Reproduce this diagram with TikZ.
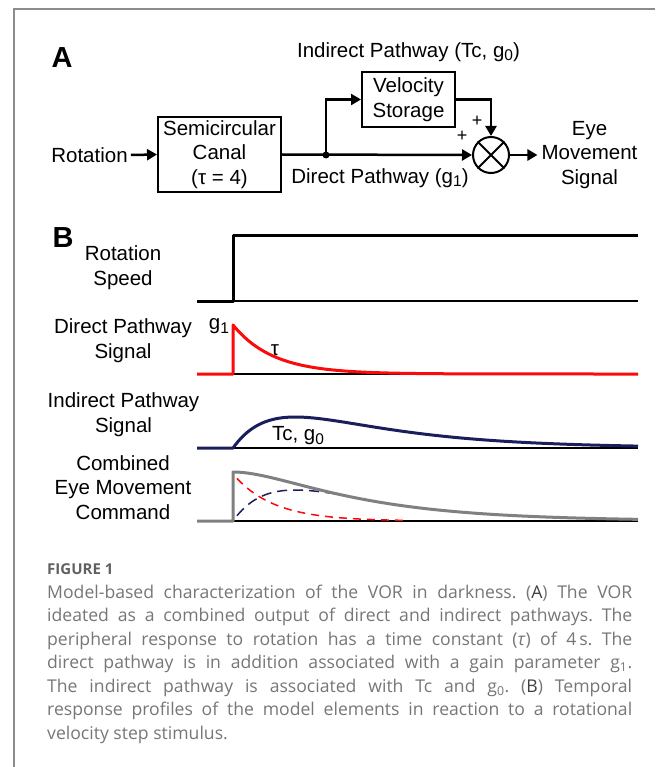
\documentclass[tikz,border=0pt]{standalone}
\usepackage{fontspec}
\setmainfont{Liberation Sans}
\newfontfamily\capfont{Open Sans}
\usetikzlibrary{arrows.meta}
\frenchspacing
\definecolor{navy}{RGB}{26,30,92}
\definecolor{sigred}{RGB}{250,10,10}
\definecolor{siggray}{RGB}{128,128,128}
\definecolor{capgray}{RGB}{118,118,118}
\definecolor{framegray}{RGB}{140,140,140}
\newcommand\dsub[1]{\raisebox{-0.18em}{\fontsize{15.5}{15.5}\selectfont #1}}
\tikzset{
  lbl/.style={font=\fontsize{20.5}{24.5}\selectfont, align=center, inner sep=3pt},
  panel/.style={font=\bfseries\fontsize{29}{29}\selectfont, inner sep=0pt},
  blk/.style={draw, line width=2pt, inner sep=0pt, align=center, font=\fontsize{20.5}{24.5}\selectfont},
  arr/.style={line width=2.5pt, -{Triangle[length=10pt,width=11pt]}},
  axisline/.style={line width=1.5pt, black},
  sig/.style={line width=3pt, line join=round},
  dsh/.style={line width=1.5pt, dash pattern=on 8pt off 6pt},
  capline/.style={anchor=west, inner sep=0pt, font=\capfont\fontsize{17.6}{23.7}\selectfont, text=capgray},
}
\begin{document}
\begin{tikzpicture}[x=1pt,y=-1pt]
\useasboundingbox (0,0) rectangle (655,767);
% frame
\draw[framegray, line width=1.5pt] (14,767) -- (14,9) -- (655,9);

% ---------- Panel A ----------
\node[panel] (pA) at (62,58) {A};
\node[lbl] (indlab) at (408.5,52) {Indirect Pathway (Tc, g\dsub{0})};
\node[blk, minimum width=93pt, minimum height=55pt] (vs) at (408.5,99.5) {Velocity\\Storage};
\node[blk, minimum width=123pt, minimum height=75pt] (scc) at (219.5,154.5) {Semicircular\\Canal\\(τ = 4)};
\node[lbl] (rot) at (89.5,155) {Rotation};
\node[circle, fill, inner sep=0pt, minimum size=7pt] (dot) at (326,155) {};
\node[circle, draw, line width=2pt, minimum size=36pt, inner sep=0pt] (sum) at (491,155) {};
\draw[line width=2pt] (sum.north west) -- (sum.south east) (sum.north east) -- (sum.south west);
\node[lbl, inner sep=4pt] (eye) at (589.5,155) {Eye\\Movement\\Signal};
\node[lbl] (dirlab) at (380,178) {Direct Pathway (g\dsub{1})};
\node[font=\fontsize{18}{18}\selectfont, inner sep=0pt] (p1) at (477,121) {+};
\node[font=\fontsize{18}{18}\selectfont, inner sep=0pt] (p2) at (462,136) {+};

\draw[arr] (rot.east) -- (scc.west);
\draw[arr] (scc.east) -- (sum.west);
\draw[arr] (dot.center) |- (vs.west);
\draw[arr] (vs.east) -| (sum.north);
\draw[arr] (sum.east) -- (sum.east -| eye.west);

% ---------- Panel B ----------
\node[panel] (pB) at (63,238) {B};
\node[lbl] (l1) at (123,267.5) {Rotation\\Speed};
\node[lbl] (l2) at (123,340.5) {Direct Pathway\\Signal};
\node[lbl] (l3) at (123.5,414.5) {Indirect Pathway\\Signal};
\node[lbl] (l4) at (123,487.5) {Combined\\Eye Movement\\Command};

% rotation speed
\draw[axisline] (233,301) -- (638,301);
\draw[sig, black] (197,301) -- (233,301) -- (233,235) -- (638,235);

% direct pathway
\draw[axisline] (233,374) -- (638,374);
\draw[sig, sigred] (197,374) -- (233,374) -- (233,325)
  -- plot[domain=0:405, samples=160] ({233+\x},{374-49*exp(-\x/40)});
\node[lbl, inner sep=0pt] (g1) at (219,326) {g\dsub{1}};
\node[lbl, inner sep=0pt] (tau) at (275,350) {τ};

% indirect pathway
\draw[axisline] (233,448) -- (638,448);
\draw[sig, navy] (197,448) -- (233,448)
  -- plot[domain=0:405, samples=160] ({233+\x},{448-31*(exp(-\x/105)-exp(-\x/40))/0.342});
\node[lbl, inner sep=0pt] (tcg) at (298,436) {Tc, g\dsub{0}};

% combined
\draw[axisline] (233,521) -- (638,521);
\draw[dsh, sigred] plot[domain=4:170, samples=80] ({233+\x},{521-47*exp(-\x/40)});
\draw[dsh, navy, dash pattern=on 10pt off 6pt] plot[domain=4:102, samples=60] ({233+\x},{521-31*(exp(-\x/105)-exp(-\x/40))/0.342});
\draw[sig, siggray] (197,521) -- (233,521) -- (233,472)
  -- plot[domain=0:405, samples=160] ({233+\x},{521-79*exp(-\x/105)+30*exp(-\x/40)});

% ---------- Caption ----------
\node[anchor=west, inner sep=0pt, font=\capfont\bfseries\fontsize{15}{18}\selectfont, text=black!62] (figno) at (47,569) {FIGURE 1};
\node[capline] (c1) at (47,593) {\makebox[585pt][s]{Model-based characterization of the VOR in darkness. ({\color{black!75}A}) The VOR}};
\node[capline] (c2) at (47,617) {\makebox[585pt][s]{ideated as a combined output of direct and indirect pathways. The}};
\node[capline] (c3) at (47,641) {\makebox[585pt][s]{peripheral response to rotation has a time constant (\textit{τ}) of 4\,s. The}};
\node[capline] (c4) at (47,664) {\makebox[585pt][s]{direct pathway is in addition associated with a gain parameter g\textsubscript{1}.}};
\node[capline] (c5) at (47,688) {\makebox[585pt][s]{The indirect pathway is associated with Tc and g\textsubscript{0}. ({\color{black!75}B}) Temporal}};
\node[capline] (c6) at (47,711) {\makebox[585pt][s]{response profiles of the model elements in reaction to a rotational}};
\node[capline] (c7) at (47,735) {velocity step stimulus.};
\end{tikzpicture}
\end{document}
